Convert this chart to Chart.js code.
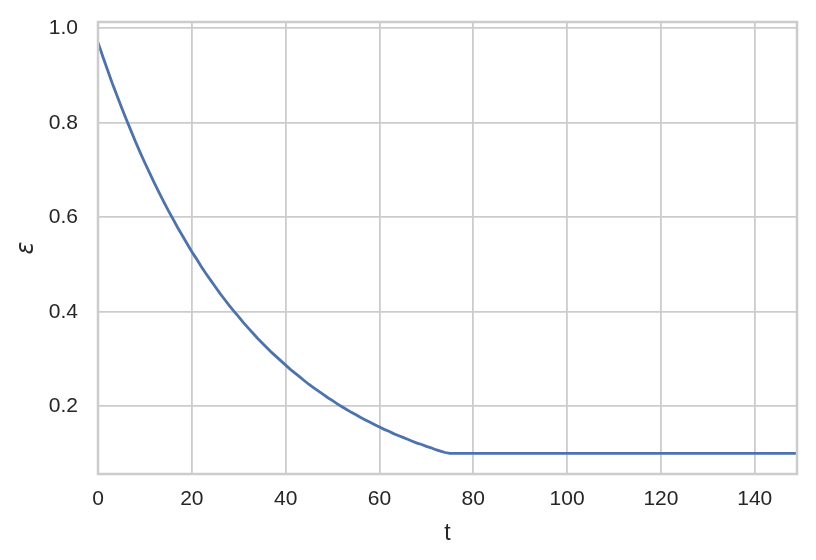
<!DOCTYPE html>
<html>
<head>
<meta charset="utf-8">
<script src="https://cdn.jsdelivr.net/npm/chart.js@4/dist/chart.umd.min.js"></script>
<style>
  html, body { margin: 0; padding: 0; background: #fff; }
  #wrap { width: 816px; height: 560px; }
</style>
</head>
<body>
<div id="wrap"><canvas id="chart" width="816" height="560"></canvas></div>
<script>
// t steps
const steps = [
  0, 1, 2, 3, 4, 5, 6, 7, 8, 9,
  10, 11, 12, 13, 14, 15, 16, 17, 18, 19,
  20, 21, 22, 23, 24, 25, 26, 27, 28, 29,
  30, 31, 32, 33, 34, 35, 36, 37, 38, 39,
  40, 41, 42, 43, 44, 45, 46, 47, 48, 49,
  50, 51, 52, 53, 54, 55, 56, 57, 58, 59,
  60, 61, 62, 63, 64, 65, 66, 67, 68, 69,
  70, 71, 72, 73, 74, 75, 149
];
// epsilon at each step
const epsilon = [
  0.970, 0.941, 0.913, 0.885, 0.859, 0.833, 0.808, 0.784, 0.760, 0.737,
  0.715, 0.694, 0.673, 0.653, 0.633, 0.614, 0.596, 0.578, 0.561, 0.544,
  0.527, 0.512, 0.496, 0.481, 0.467, 0.453, 0.439, 0.426, 0.413, 0.401,
  0.389, 0.377, 0.366, 0.355, 0.344, 0.334, 0.324, 0.314, 0.305, 0.296,
  0.287, 0.278, 0.270, 0.262, 0.254, 0.246, 0.239, 0.232, 0.225, 0.218,
  0.212, 0.205, 0.199, 0.193, 0.187, 0.182, 0.176, 0.171, 0.166, 0.161,
  0.156, 0.151, 0.147, 0.142, 0.138, 0.134, 0.130, 0.126, 0.122, 0.119,
  0.115, 0.112, 0.108, 0.105, 0.102, 0.100, 0.100
];
const xTicks = [0, 20, 40, 60, 80, 100, 120, 140];
const yTicks = [0.2, 0.4, 0.6, 0.8, 1.0];

const gridColor = "#cccccc";
const textColor = "#262626";

// matplotlib style frame on all four sides
const frame = {
  id: "frame",
  afterDraw(chart) {
    const a = chart.chartArea;
    const ctx = chart.ctx;
    ctx.save();
    ctx.strokeStyle = gridColor;
    ctx.lineWidth = 2.5;
    ctx.strokeRect(a.left, a.top, a.right - a.left, a.bottom - a.top);
    ctx.restore();
  }
};

const points = steps.map((t, i) => ({ x: t, y: epsilon[i] }));

new Chart(document.getElementById("chart"), {
  type: "line",
  data: {
    datasets: [{
      data: points,
      borderColor: "#4c72b0",
      borderWidth: 2.8,
      pointRadius: 0,
      tension: 0,
      fill: false
    }]
  },
  options: {
    responsive: false,
    animation: false,
    events: [],
    layout: { padding: { top: 22, right: 19, left: 0, bottom: 0 } },
    plugins: { legend: { display: false }, tooltip: { enabled: false } },
    scales: {
      x: {
        type: "linear",
        min: 0,
        max: 149,
        afterBuildTicks: axis => { axis.ticks = xTicks.map(v => ({ value: v })); },
        afterFit: axis => {
          axis.height = 86;
          axis.paddingLeft = 0;
          axis.paddingRight = 0;
        },
        grid: { color: gridColor, lineWidth: 1.8, drawTicks: false },
        border: { display: false },
        ticks: {
          padding: 13,
          color: textColor,
          font: { family: "Liberation Sans, Arial", size: 21 },
          maxRotation: 0,
          callback: v => String(v)
        },
        title: {
          display: true,
          text: "t",
          color: textColor,
          font: { family: "Liberation Sans, Arial", size: 23 },
          padding: { top: 0, bottom: 13 }
        }
      },
      y: {
        min: 0.0565,
        max: 1.0135,
        afterBuildTicks: axis => { axis.ticks = yTicks.map(v => ({ value: v })); },
        afterFit: axis => {
          axis.width = 98;
          axis.paddingTop = 0;
          axis.paddingBottom = 0;
        },
        grid: { color: gridColor, lineWidth: 1.8, drawTicks: false },
        border: { display: false },
        ticks: {
          padding: 20,
          color: textColor,
          font: { family: "Liberation Sans, Arial", size: 21 },
          callback: v => v.toFixed(1)
        },
        title: {
          display: true,
          text: "ε",
          color: textColor,
          font: { family: "DejaVu Sans", size: 24, style: "italic" },
          padding: { top: 12, bottom: 0 }
        }
      }
    }
  },
  plugins: [frame]
});
</script>
</body>
</html>
